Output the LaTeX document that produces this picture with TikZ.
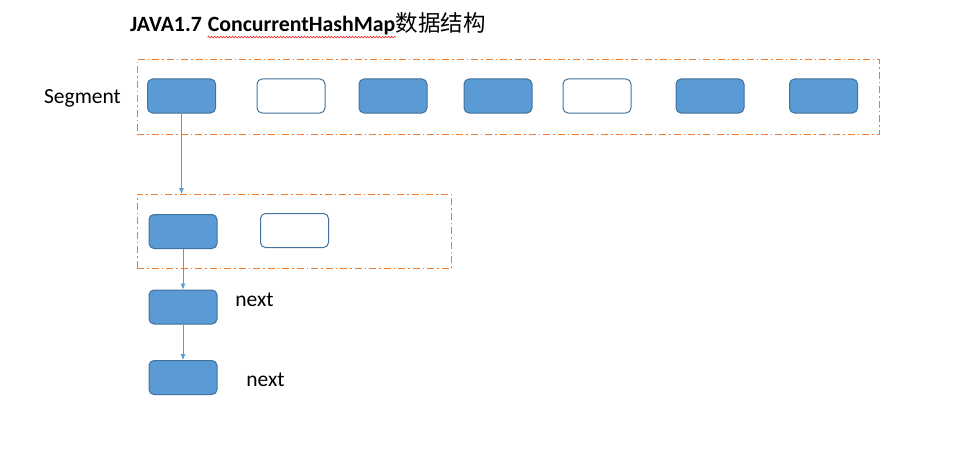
\documentclass[tikz,border=0pt]{standalone}
\usepackage{fontspec}
\setmainfont{Carlito}
\newfontfamily\cjkfont{Noto Sans CJK SC}
\usepackage{xcolor}
\usepackage{tikz}
\usetikzlibrary{arrows.meta,positioning,decorations.pathmorphing}
\definecolor{cellblue}{HTML}{5B9BD5}
\definecolor{celledge}{HTML}{41719C}
\definecolor{dashorange}{HTML}{ED7D31}

\begin{document}
\begin{tikzpicture}[x=1pt,y=-1pt,
  every node/.style={font=\fontsize{21.5}{25}\selectfont},
  cell/.style={draw=celledge,line width=1pt,rounded corners=5pt,fill=cellblue,minimum width=68pt,minimum height=34pt,inner sep=0pt},
  emptycell/.style={cell,fill=white},
  dashbox/.style={draw=dashorange,line width=0.9pt,dash pattern=on 7pt off 3pt on 1.5pt off 3pt,inner sep=0pt,anchor=north west},
  link/.style={draw=cellblue,line width=0.8pt,-{Latex[length=6pt,width=5pt]}}]
\useasboundingbox (0,0) rectangle (964,460);
% title
\node[anchor=base west,inner sep=0pt,font=\fontsize{21.8}{25}\selectfont\bfseries] (ver) at (130,32) {JAVA1.7};
\node[inner sep=0pt,font=\fontsize{21.8}{25}\selectfont\bfseries,right=5.5pt of ver.base east,anchor=base west] (cls) {ConcurrentHashMap};
\node[anchor=base west,inner sep=0pt,font=\fontsize{22.5}{26}\selectfont\cjkfont] (cjk) at (cls.base east) {数据结构};
\draw[red,line width=0.5pt,decorate,decoration={snake,amplitude=0.8pt,segment length=3pt}] ([yshift=-1.5pt]cls.south west) -- ([yshift=-1.5pt]cls.south east);
% segment array
\node (seglabel) at (82.5,98) {Segment};
\node[dashbox,minimum width=742pt,minimum height=75pt] (segs) at (137,59) {};
\node[cell] (s1) at (181.5,96) {};
\node[emptycell] (s2) at (291,96) {};
\node[cell] (s3) at (393,96) {};
\node[cell] (s4) at (498,96) {};
\node[emptycell] (s5) at (597,96) {};
\node[cell] (s6) at (710,96) {};
\node[cell] (s7) at (823.5,96) {};
% hash entry table
\node[dashbox,minimum width=314pt,minimum height=74pt] (table) at (137,194) {};
\node[cell] (t1) at (183,231.5) {};
\node[emptycell] (t2) at (294.5,230.5) {};
% linked list
\node[cell] (n1) at (183,307) {};
\node[cell] (n2) at (183,377.5) {};
\node (next1) at (254.5,300) {next};
\node (next2) at (265.5,380) {next};
\draw[link] (s1.south) -- (s1.south |- table.north);
\draw[link] (t1) -- (n1);
\draw[link] (n1) -- (n2);
\end{tikzpicture}
\end{document}
